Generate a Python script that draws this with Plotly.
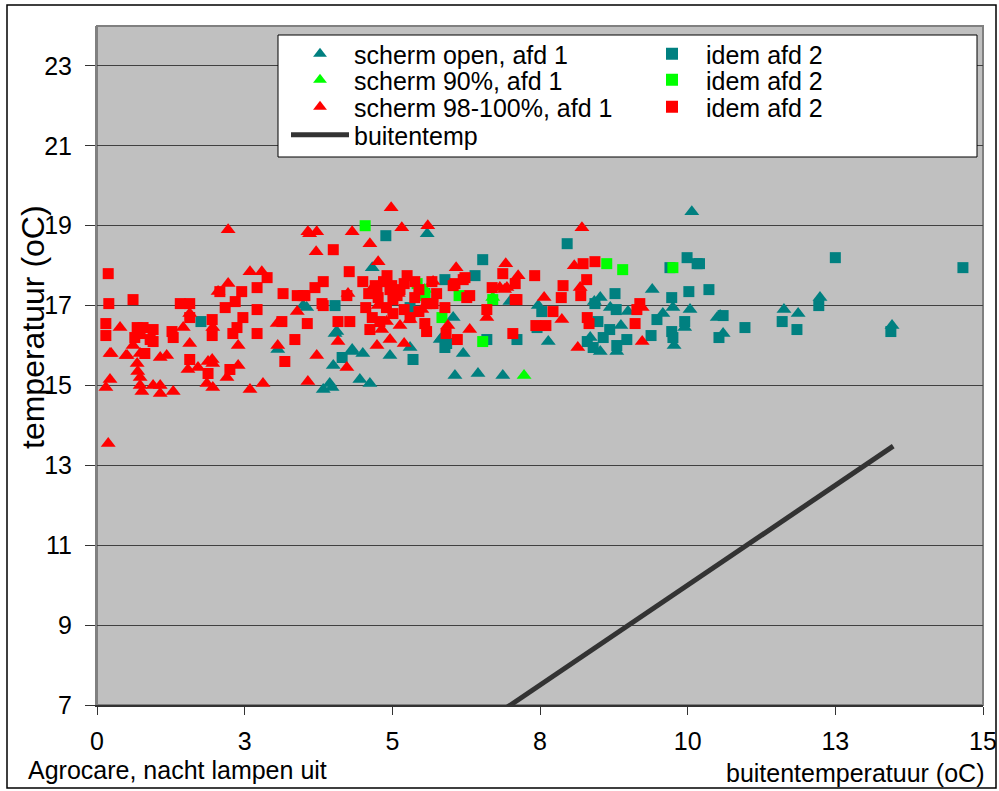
import plotly.graph_objects as go

# --- data: outside temperature (x) vs greenhouse temperature (y), night, lamps off ---
# afd 1, screen open
open1_x = [10.07, 13.46, 12.24, 11.63, 11.87, 10.6, 9.4, 10.04, 9.75, 9.58, 10.5, 8.99, 8.87, 8.69,
           8.52, 8.42, 7.47, 7.64, 8.52, 8.8, 9.77, 6.87, 6.99, 8.35, 9.95, 5.59, 4.66, 3.83, 3.94,
           4.45, 4.62, 4.32, 4.5, 4.96, 4.0, 4.06, 5.3, 5.84, 6.03, 6.2, 6.06, 6.45, 3.49, 3.06,
           3.55, 4.03, 4.32, 5.81, 3.98, 10.55]
open1_y = [19.35, 16.5, 17.2, 16.9, 16.8, 16.3, 17.4, 16.9, 16.95, 16.8, 16.7, 16.85, 16.5, 16.95,
           17.2, 17.1, 17.0, 16.1, 15.85, 15.85, 16.0, 15.25, 17.1, 16.2, 16.45, 18.8, 17.95, 14.9, 15.05,
           15.15, 15.05, 15.85, 15.8, 15.75, 15.5, 16.35, 15.95, 16.2, 16.7, 15.8, 15.25, 15.3, 17.0, 15.9,
           16.95, 16.3, 15.9, 16.15, 14.95, 16.75]

# afd 2, screen open
open2_x = [10.2, 10.36, 12.5, 14.66, 10.6, 10.53, 10.97, 11.6, 11.85, 12.22, 13.44, 7.96, 8.77, 8.79,
           8.43, 8.48, 8.68, 8.57, 8.3, 8.4, 8.8, 8.97, 9.38, 9.48, 9.73, 9.73, 9.75, 9.95, 10.02, 9.99,
           10.16, 7.11, 7.45, 7.53, 4.89, 4.03, 4.15, 5.35, 5.89, 6.4, 6.53, 5.92, 6.6, 5.3, 5.55, 5.89,
           1.76, 9.7]
open2_y = [18.05, 17.4, 18.2, 17.95, 16.75, 16.2, 16.45, 16.6, 16.4, 17.0, 16.35, 18.55, 17.3, 16.9,
           17.05, 16.6, 16.4, 16.2, 16.1, 15.95, 16.0, 16.15, 16.25, 16.65, 17.2, 16.35, 16.2, 16.6, 17.35, 18.2,
           18.05, 16.15, 16.45, 16.85, 18.75, 17.0, 15.7, 15.65, 17.65, 17.75, 18.15, 16.05, 16.15, 16.95, 17.3, 15.95,
           16.6, 17.95]

# afd 1, screen 90%
s90_1_x = [7.23, 5.55, 6.7]
s90_1_y = [15.25, 17.4, 17.2]

# afd 2, screen 90%
s90_2_x = [8.63, 8.9, 9.75, 4.54, 5.42, 5.55, 5.84, 6.13, 6.7, 6.53]
s90_2_y = [18.05, 17.9, 17.95, 19.0, 17.55, 17.25, 16.7, 17.25, 17.15, 16.1]

# afd 1, screen 98-100%
s98_1_x = [0.19, 0.15, 0.22, 0.22, 0.39, 0.49, 0.68, 0.69, 0.73, 0.73, 0.76, 0.73, 0.95, 1.07, 1.07,
           1.29, 1.07, 1.18, 1.57, 1.46, 1.57, 1.54, 1.71, 1.88, 1.96, 1.86, 1.96, 2.2, 2.39, 2.39, 2.59,
           2.81, 3.06, 3.05, 3.39, 3.57, 2.22, 2.59, 2.79, 2.22, 2.05, 1.95, 3.57, 3.72, 3.72, 3.6, 4.32,
           4.62, 3.71, 4.76, 4.98, 5.16, 5.6, 6.08, 5.69, 4.25, 4.08, 4.23, 4.74, 4.96, 5.2, 5.13, 5.94,
           6.31, 6.6, 4.76, 5.3, 4.67, 4.82, 6.92, 7.13, 6.9, 8.08, 8.18, 7.57, 7.87, 8.14, 9.23, 9.23,
           8.21, 6.82, 6.94, 1.96, 0.61, 0.24, 0.51, 5.1, 5.5, 4.9]
s98_1_y = [13.55, 14.95, 15.15, 15.8, 16.45, 15.75, 15.55, 15.35, 15.2, 15.0, 14.85, 15.8, 15.0, 15.0, 14.8,
           14.85, 15.7, 15.75, 16.05, 16.45, 16.8, 15.4, 15.45, 15.6, 15.55, 15.05, 14.95, 15.2, 15.5, 16.0, 14.9,
           15.05, 16.0, 16.55, 16.85, 18.85, 18.9, 17.85, 17.85, 17.55, 17.35, 15.65, 15.1, 15.75, 18.85, 18.8, 18.85,
           18.55, 18.35, 18.1, 19.45, 18.95, 19.0, 17.95, 17.6, 17.3, 16.1, 15.45, 16.0, 16.15, 16.05, 16.5, 16.5,
           16.4, 16.7, 17.0, 16.65, 17.45, 16.4, 18.05, 17.75, 17.4, 18.0, 17.45, 17.2, 16.65, 15.95, 16.1, 16.95,
           18.95, 17.45, 17.45, 16.45, 16.0, 15.8, 15.75, 17.3, 16.9, 16.6]

# afd 2, screen 98-100%
s98_2_x = [0.19, 0.2, 0.61, 1.41, 1.57, 0.15, 0.15, 0.68, 0.78, 0.95, 0.73, 0.9, 0.95, 0.64, 0.81,
           1.27, 1.29, 1.57, 1.57, 1.95, 1.95, 1.88, 2.08, 2.17, 2.45, 2.34, 2.71, 2.88, 2.71, 2.47, 2.37,
           2.3, 2.71, 3.15, 3.39, 3.49, 3.13, 3.35, 3.18, 2.25, 3.81, 4.0, 4.27, 4.5, 3.83, 3.69, 3.52,
           3.83, 4.91, 5.25, 5.38, 4.74, 4.96, 5.13, 4.76, 5.01, 5.38, 5.58, 5.69, 5.89, 5.01, 5.3, 4.66,
           4.79, 5.55, 5.58, 4.62, 4.08, 4.28, 3.56, 6.06, 6.23, 6.31, 6.1, 5.91, 6.69, 6.87, 7.04, 6.6,
           7.08, 7.41, 7.08, 7.11, 7.89, 7.86, 8.19, 8.29, 8.23, 8.43, 7.72, 7.43, 7.6, 8.3, 8.33, 9.19,
           9.14, 9.11, 5.67, 6.03, 6.2, 6.26, 5.64, 4.23, 4.99, 4.71, 5.08,
           4.85, 5.2, 4.6, 5.45, 5.75, 4.9, 5.2, 5.45, 4.55]
s98_2_y = [17.8, 17.05, 17.15, 17.05, 17.05, 16.55, 16.25, 16.45, 16.45, 16.4, 16.3, 16.15, 16.1, 16.2, 15.8,
           16.35, 16.2, 15.65, 16.7, 16.65, 16.25, 15.3, 17.35, 16.95, 17.35, 17.1, 17.45, 17.7, 16.9, 16.7, 16.45,
           16.3, 16.3, 17.3, 17.25, 17.25, 16.6, 16.15, 15.6, 15.4, 17.05, 18.4, 17.85, 17.6, 17.6, 17.45, 17.25,
           17.0, 17.75, 17.75, 17.6, 17.45, 17.4, 17.4, 17.2, 17.15, 17.2, 17.05, 17.05, 16.95, 16.8, 16.7, 16.7,
           16.6, 16.55, 16.35, 16.4, 16.6, 16.6, 16.55, 17.55, 17.7, 17.25, 16.15, 16.3, 17.45, 17.8, 16.3, 16.9,
           17.15, 17.75, 17.55, 17.15, 17.5, 17.2, 17.25, 17.65, 18.05, 18.1, 16.85, 16.5, 16.5, 16.7, 16.55, 17.05,
           16.9, 16.55, 17.6, 17.5, 17.65, 17.2, 17.05, 17.25, 17.5, 17.5, 17.25,
           17.6, 17.55, 17.3, 17.4, 17.3, 16.95, 16.9, 16.85, 16.95]

# outside temperature reference line
buiten_x = [6.6, 13.48]
buiten_y = [6.6, 13.48]

x_tickvals = [0, 2.5, 5, 7.5, 10, 12.5, 15]
x_ticktext = ["0", "3", "5", "8", "10", "13", "15"]
y_tickvals = [7, 9, 11, 13, 15, 17, 19, 21, 23]

TEAL = "#008080"
GREEN = "#00FF00"
RED = "#FF0000"
FONT = "Liberation Sans, Arial, sans-serif"
FS = 25
TRI = 13
SQ = 11

# figure geometry (pixels)
FIG_W, FIG_H = 999, 791
L, R, T, B = 97, 16, 26, 86
W, H = FIG_W - L - R, FIG_H - T - B


def px(xp):
    return (xp - L) / W


def py(yp):
    return (T + H - yp) / H


fig = go.Figure()
fig.add_trace(go.Scatter(x=open1_x, y=open1_y, mode="markers", name="scherm open, afd 1", legend="legend",
                         marker=dict(symbol="triangle-up", size=TRI, color=TEAL)))
fig.add_trace(go.Scatter(x=open2_x, y=open2_y, mode="markers", name="idem afd 2", legend="legend",
                         marker=dict(symbol="square", size=SQ, color=TEAL)))
fig.add_trace(go.Scatter(x=s90_1_x, y=s90_1_y, mode="markers", name="scherm 90%, afd 1", legend="legend2",
                         marker=dict(symbol="triangle-up", size=TRI, color=GREEN)))
fig.add_trace(go.Scatter(x=s90_2_x, y=s90_2_y, mode="markers", name="idem afd 2", legend="legend2",
                         marker=dict(symbol="square", size=SQ, color=GREEN)))
fig.add_trace(go.Scatter(x=s98_1_x, y=s98_1_y, mode="markers", name="scherm 98-100%, afd 1", legend="legend3",
                         marker=dict(symbol="triangle-up", size=TRI, color=RED)))
fig.add_trace(go.Scatter(x=s98_2_x, y=s98_2_y, mode="markers", name="idem afd 2", legend="legend3",
                         marker=dict(symbol="square", size=SQ, color=RED)))
fig.add_trace(go.Scatter(x=buiten_x, y=buiten_y, mode="lines", name="buitentemp", legend="legend4",
                         line=dict(color="#333333", width=5)))

ITEM_W = 58
LEG_LEFT = 320 - (5 + ITEM_W / 2)


def row_legend(yc):
    return dict(
        orientation="h",
        x=px(LEG_LEFT), y=py(yc), xanchor="left", yanchor="middle",
        bgcolor="rgba(0,0,0,0)", borderwidth=0,
        entrywidth=352 - ITEM_W - 15, entrywidthmode="pixels",
        itemwidth=ITEM_W,
        font=dict(family=FONT, size=FS, color="black"),
        itemsizing="constant", tracegroupgap=0,
    )


fig.update_layout(
    width=FIG_W, height=FIG_H,
    margin=dict(l=L, r=R, t=T, b=B, autoexpand=False),
    paper_bgcolor="white",
    plot_bgcolor="#C0C0C0",
    font=dict(family=FONT, size=FS, color="black"),
    showlegend=True,
    legend=row_legend(54),
    legend2=row_legend(80),
    legend3=row_legend(107),
    legend4=row_legend(135),
    xaxis=dict(
        range=[0, 15], tickvals=x_tickvals, ticktext=x_ticktext,
        showgrid=False, zeroline=False,
        showline=True, linecolor="#333333", linewidth=2,
        ticks="outside", ticklen=8, tickcolor="#333333", tickwidth=1,
        ticklabelstandoff=5,
        tickfont=dict(family=FONT, size=FS, color="black"),
    ),
    yaxis=dict(
        range=[7, 24], tickvals=y_tickvals,
        showgrid=True, gridcolor="#404040", gridwidth=1, zeroline=False,
        showline=True, linecolor="#808080", linewidth=2,
        ticks="outside", ticklen=10, tickcolor="#333333", tickwidth=1,
        ticklabelstandoff=8,
        tickfont=dict(family=FONT, size=FS, color="black"),
    ),
)

shapes = [
    # outer chart frame
    dict(type="rect", xref="paper", yref="paper", x0=px(7), x1=px(996), y0=py(788), y1=py(5),
         line=dict(color="black", width=1.5), fillcolor="rgba(0,0,0,0)", layer="above"),
    # plot area border
    dict(type="rect", xref="paper", yref="paper", x0=0, x1=1, y0=0, y1=1,
         line=dict(color="#808080", width=2), fillcolor="rgba(0,0,0,0)", layer="below"),
    # legend box
    dict(type="rect", xref="paper", yref="paper", x0=px(278), x1=px(977), y0=py(157), y1=py(35),
         line=dict(color="black", width=1), fillcolor="white", layer="above"),
]
fig.update_layout(shapes=shapes)

fig.add_annotation(text="temperatuur (oC)", xref="paper", yref="paper",
                   x=px(33), y=py(327), xanchor="center", yanchor="middle",
                   textangle=-90, showarrow=False,
                   font=dict(family=FONT, size=32, color="black"))
fig.add_annotation(text="Agrocare, nacht lampen uit", xref="paper", yref="paper",
                   x=px(26), y=py(770), xanchor="left", yanchor="middle", showarrow=False,
                   font=dict(family=FONT, size=FS, color="black"))
fig.add_annotation(text="buitentemperatuur (oC)", xref="paper", yref="paper",
                   x=px(986), y=py(773), xanchor="right", yanchor="middle", showarrow=False,
                   font=dict(family=FONT, size=FS, color="black"))

fig.write_html("out.html")
